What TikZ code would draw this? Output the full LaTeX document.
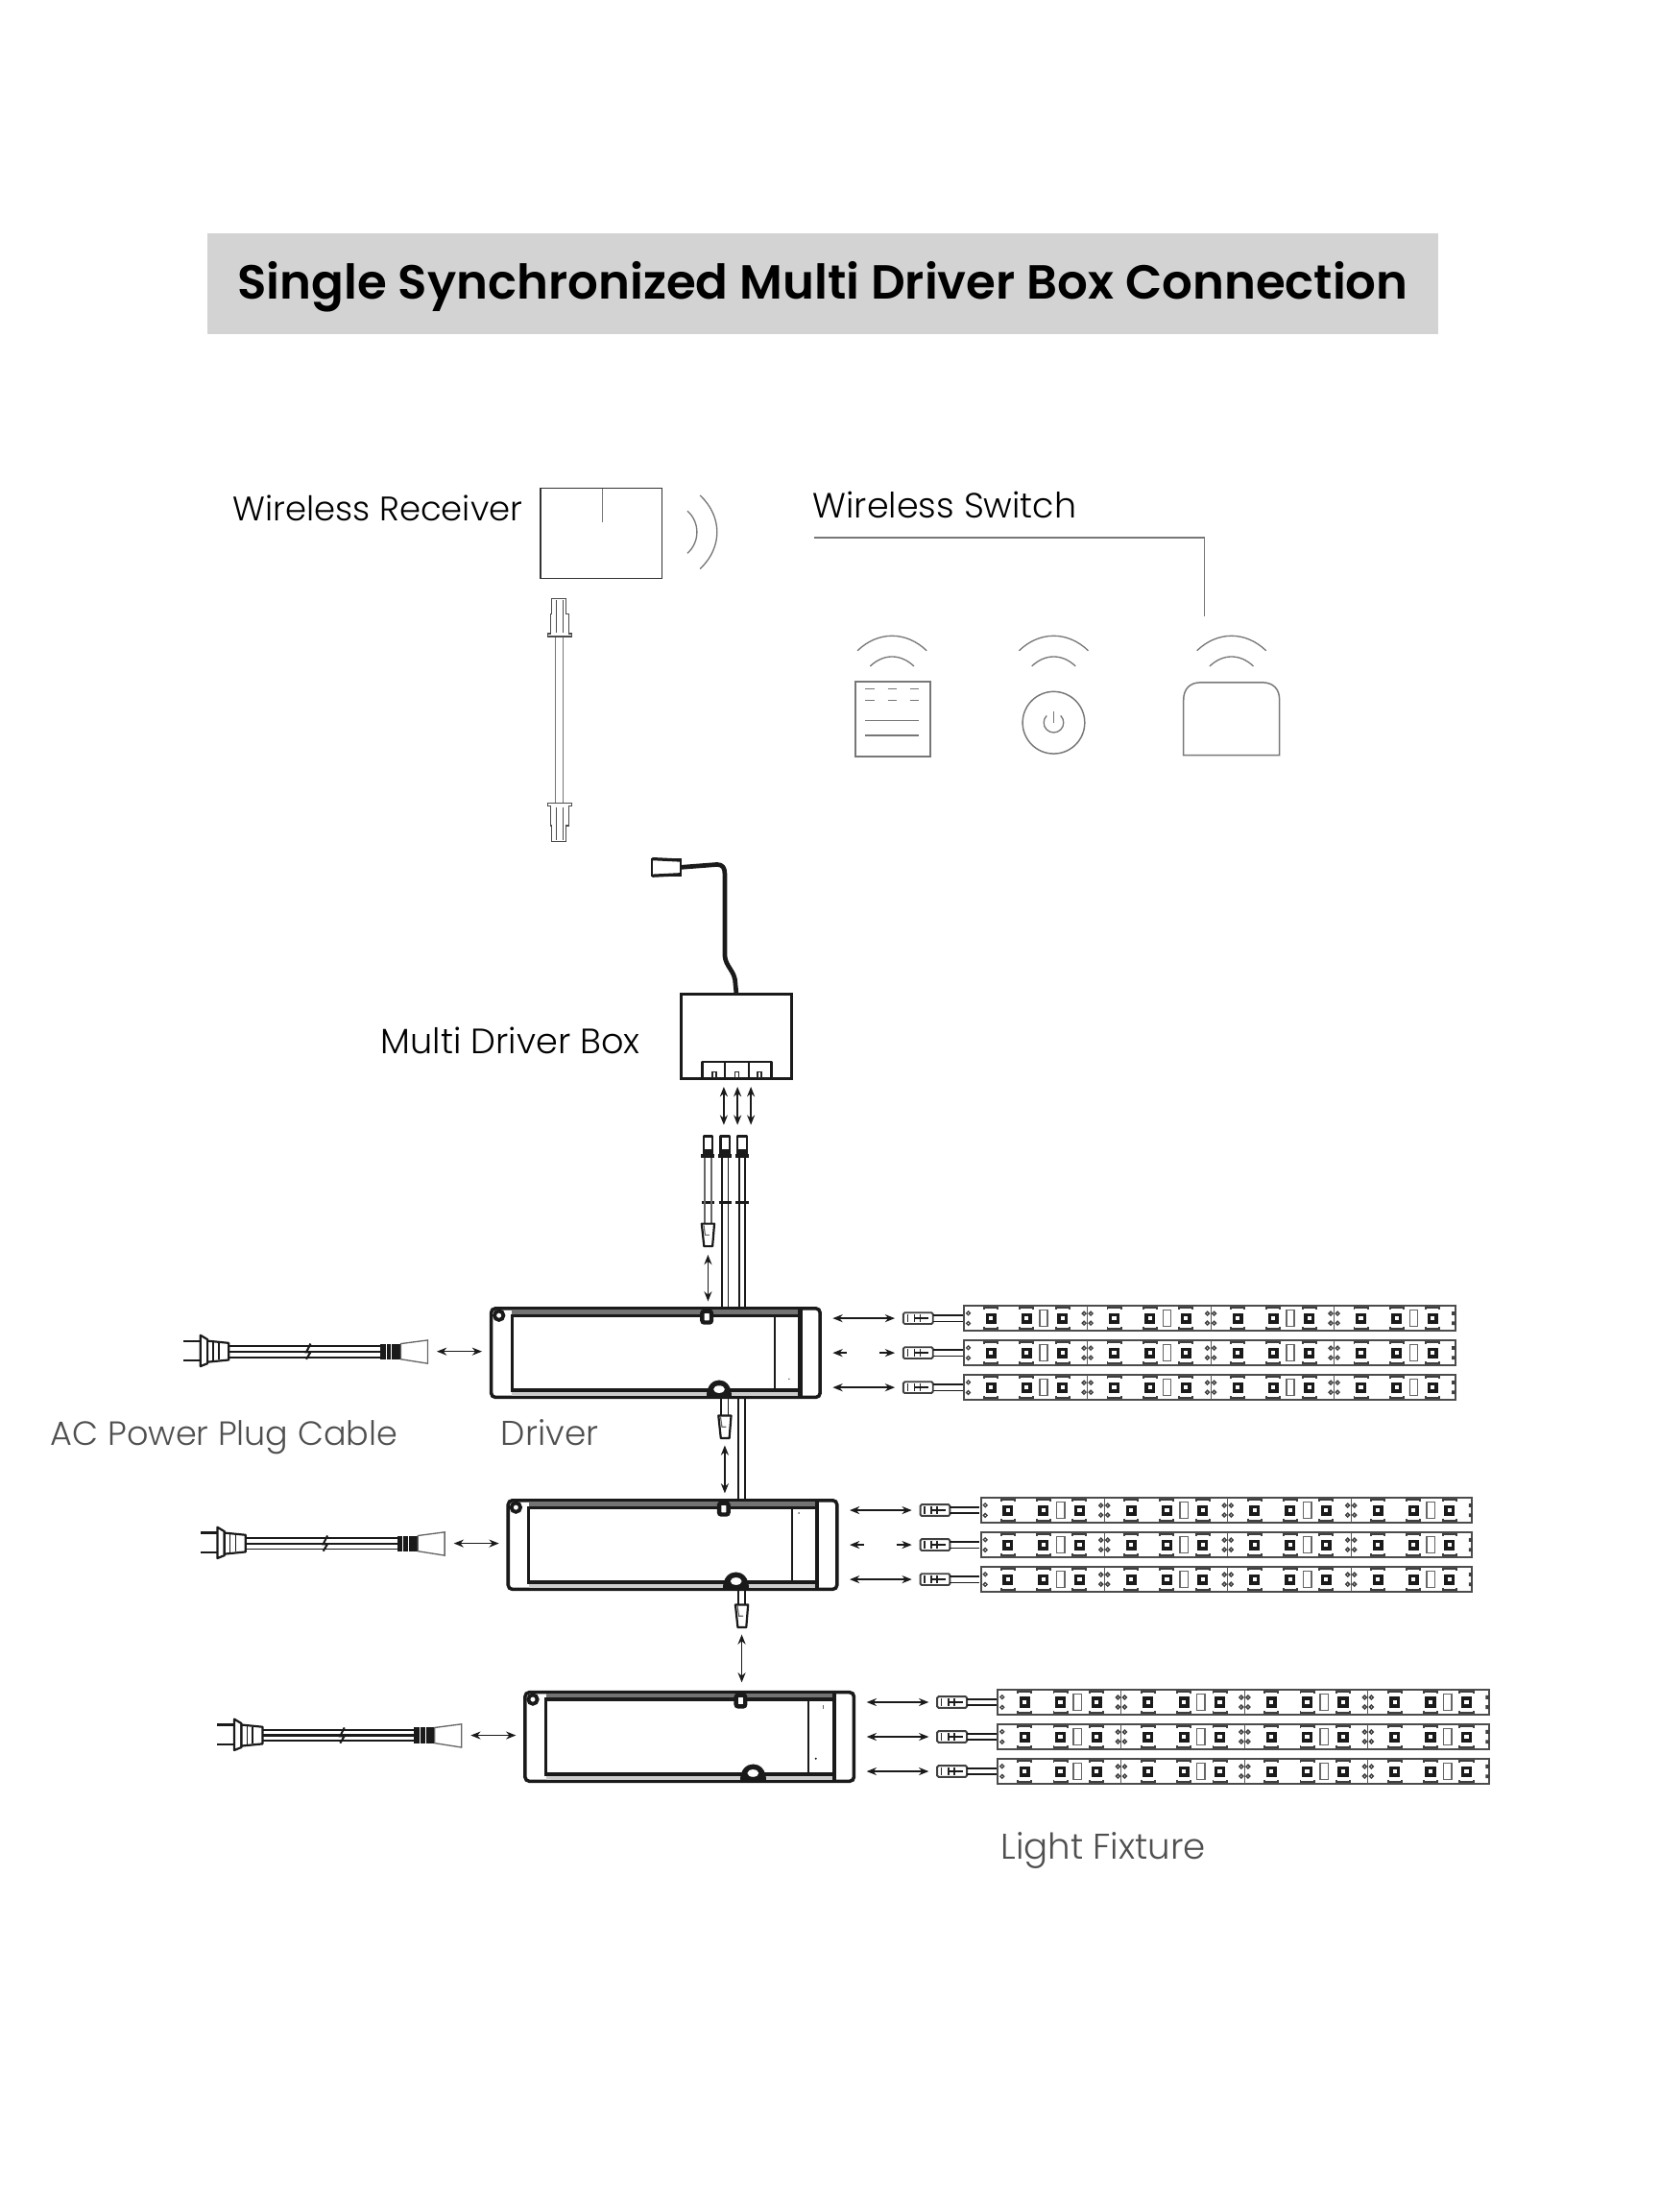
\documentclass[tikz,border=0pt]{standalone}
\usepackage{fontspec}
\usepackage{xcolor}
\usepackage{tikz}
\usetikzlibrary{arrows.meta, positioning}
\setmainfont{Poppins}[UprightFont=* Light, BoldFont=* SemiBold]
\definecolor{titlegray}{HTML}{D3D3D3}
\definecolor{labelgray}{HTML}{4F4F4F}
\definecolor{linegray}{HTML}{777777}
\definecolor{inkblack}{HTML}{1A1A1A}
\tikzstyle{darklabel} = [inner sep=0pt, outer sep=0pt, anchor=west, font=\fontsize{24.4}{28}\selectfont, text=black]
\tikzstyle{graylabel} = [darklabel, text=labelgray]
\tikzstyle{thin gray} = [draw=linegray, line width=0.9pt]
\tikzstyle{icon} = [draw=linegray, line width=1pt, inner sep=0pt, outer sep=0pt, minimum width=0pt, minimum height=0pt]
\tikzstyle{ink} = [draw=inkblack, line width=1.5pt, line join=round]
\tikzstyle{dblarrow} = [draw=inkblack, line width=0.9pt, {Stealth[length=7pt,width=5.5pt]}-{Stealth[length=7pt,width=5.5pt]}]
\tikzstyle{driverbody} = [draw=inkblack, line width=2.4pt, rounded corners=3pt, minimum width=233pt, minimum height=63pt, inner sep=0pt, outer sep=0pt, anchor=north west]
\tikzstyle{stripbody} = [draw=black!70, line width=1.3pt, minimum width=348pt, minimum height=17.5pt, inner sep=0pt, outer sep=0pt, anchor=west]
\tikzstyle{leadbody} = [draw=black!75, line width=1.3pt, fill=white, rounded corners=1pt, minimum width=21pt, minimum height=8pt, inner sep=0pt, outer sep=0pt, anchor=west]

% wifi waves over a remote, #1 = centre x
\newcommand{\waves}[1]{
  \draw[thin gray] (#1-24.5,461) .. controls (#1-10,447) and (#1+10,447) .. (#1+24.5,461);
  \draw[thin gray] (#1-15.5,472) .. controls (#1-6,463) and (#1+6,463) .. (#1+15.5,472);
}
% connector with the head upwards, #1 = x, #2 = top y
\newcommand{\conup}[2]{
  \draw[ink, fill=white] (#1-3.2,#2) rectangle (#1+3.2,#2+13);
  \fill[inkblack] (#1-3.2,#2+9) rectangle (#1+3.2,#2+13);
  \draw[inkblack, line width=2.2pt] (#1-4.8,#2+14) -- (#1+4.8,#2+14);
}
% connector with the head downwards, #1 = x, #2 = top y
\newcommand{\condown}[2]{
  \draw[ink, fill=white] (#1-4.5,#2) -- (#1+4.5,#2) -- (#1+3.2,#2+16) -- (#1-2.8,#2+16) -- cycle;
  \draw[black!60, line width=0.8pt] (#1-3,#2+1) -- (#1-2,#2+8) -- (#1+1,#2+8);
}
% one LED of a strip, #1 = x, #2 = centre y
\newcommand{\ledcell}[2]{
  \draw[inkblack, line width=2.3pt] (#1-2.6,#2-2.6) rectangle (#1+2.6,#2+2.6);
  \draw[black!75, line width=1.3pt] (#1-4.8,#2-6.2) -- (#1-4.8,#2-7.4) -- (#1+4.8,#2-7.4) -- (#1+4.8,#2-6.2);
  \draw[black!75, line width=1.3pt] (#1-4.8,#2+6.2) -- (#1-4.8,#2+7.4) -- (#1+4.8,#2+7.4) -- (#1+4.8,#2+6.2);
}
% two solder pads, #1 = x, #2 = centre y
\newcommand{\padpair}[2]{
  \draw[black!75, line width=1pt] (#1-2.4,#2-3.4) circle (1.3pt) (#1+2.4,#2-3.4) circle (1.3pt);
  \draw[black!75, line width=1pt] (#1-2.4,#2+3.4) circle (1.3pt) (#1+2.4,#2+3.4) circle (1.3pt);
}

\begin{document}
\begin{tikzpicture}[x=1pt, y=-1pt, >=Stealth]
\useasboundingbox (0,0) rectangle (1175.4,1567.2);

% Title
\node (titlebar) [fill=titlegray, minimum width=872pt, minimum height=72pt, inner sep=0pt, outer sep=0pt, anchor=north west] at (147,165) {};
\node (title) [inner sep=0pt, yshift=-2.5pt] at (titlebar.center) {\fontsize{33.9}{40}\selectfont\bfseries Single Synchronized Multi Driver Box Connection};

% Labels
\node (lblreceiver) [darklabel, font=\fontsize{24.1}{28}\selectfont] at (165,360) {Wireless Receiver};
\node (lblswitch) [darklabel, font=\fontsize{24.8}{28}\selectfont] at (576,358) {Wireless Switch};
\node (lblbox) [darklabel, font=\fontsize{24.9}{28}\selectfont] at (270,737) {Multi Driver Box};
\node (lblplug) [graylabel, font=\fontsize{23.8}{28}\selectfont] at (36,1018.5) {AC Power Plug Cable};
\node (lbldriver) [graylabel] at (355,1015) {Driver};
\node (lblfixture) [graylabel, font=\fontsize{25.3}{28}\selectfont] at (709,1311) {Light Fixture};

% Wireless receiver
\node (receiver) [draw=black!80, line width=1pt, minimum width=86pt, minimum height=64pt, inner sep=0pt, outer sep=0pt, anchor=north west] at (383,346) {};
\draw[thin gray] (427,346) -- (427,370);
\draw[thin gray] (487,362) .. controls (496,370) and (496,384) .. (487,392);
\draw[thin gray] (496,351) .. controls (512,366) and (512,388) .. (496,403);

% Receiver cable
\draw[thin gray, fill=white] (393.5,451) rectangle (399,569);
\foreach \cy/\cs in {451/-1, 569/1} {
  \draw[black!70, line width=0.9pt, fill=white] (388,\cy) -- (405,\cy) -- (405,\cy+\cs*2) -- (403,\cy+\cs*2) -- (403,\cy+\cs*16) -- (401,\cy+\cs*16) -- (401,\cy+\cs*27) -- (391,\cy+\cs*27) -- (391,\cy+\cs*16) -- (390,\cy+\cs*16) -- (390,\cy+\cs*2) -- (388,\cy+\cs*2) -- cycle;
  \draw[black!70, line width=0.8pt] (394,\cy+\cs*3) -- (394,\cy+\cs*26) (399,\cy+\cs*3) -- (399,\cy+\cs*26);
}

% Wireless switch bracket
\coordinate (switchleft) at (577,381);
\coordinate (switchcorner) at (853.5,381);
\coordinate (switchend) at (853.5,437);
\draw[thin gray] (switchleft) -- (switchcorner) -- (switchend);

% Remotes
\waves{632}
\waves{746.5}
\waves{872.5}
\node (panel) [icon, minimum width=53pt, minimum height=53pt, anchor=north west] at (606,483) {};
\foreach \dy in {488,496} {
  \foreach \dx in {613,629,644.5} {
    \draw[thin gray] (\dx,\dy) -- ++(6.5,0);
  }
}
\draw[thin gray] (613,510.5) -- (651,510.5);
\draw[thin gray] (613,521) -- (651,521);
\node (dial) [icon, circle, minimum size=44pt] at (746.5,512) {};
\draw[thin gray] (741.55,507.05) arc[start angle=135, end angle=405, radius=7pt];
\draw[thin gray] (746.5,504) -- (746.5,512);
\draw[icon] (838.5,535) -- (838.5,496) .. controls (838.5,488) and (843,483.5) .. (851,483.5) -- (894,483.5) .. controls (902,483.5) and (906.5,488) .. (906.5,496) -- (906.5,535) -- cycle;

% Multi driver box
\node (multibox) [draw=inkblack, line width=1.8pt, minimum width=78.5pt, minimum height=59.5pt, inner sep=0pt, outer sep=0pt, anchor=north west] at (482.5,704.5) {};
\node (inplug) [draw=inkblack, line width=1.4pt, fill=white, minimum width=20pt, minimum height=12pt, inner sep=0pt, outer sep=0pt, anchor=north west] at (462,608.5) {};
\draw[inkblack, line width=2.2pt] (462,608.5) -- (482,609.5) (462,620.5) -- (482,619.5);
\draw[inkblack, line width=3.2pt, line join=round] (inplug.east) -- (508,612.5) .. controls (512,612.5) and (513.5,615) .. (513.5,619) -- (513.5,677) .. controls (514,685) and (521,688) .. (521,697) -- (multibox.north);
\draw[ink] (497.5,764) -- (497.5,752.5) -- (546.5,752.5) -- (546.5,764);
\foreach \px/\dx in {513.5/506, 530.5/522, 546.5/538} {
  \draw[ink] (\px,752.5) -- (\px,764);
  \draw[black!85, line width=1pt] (\dx-1.4,759.5) rectangle (\dx+1.4,763.5);
}

% Connectors below the box
\foreach \wx in {501.6,513.7,525.8} {
  \conup{\wx}{805}
  \draw[inkblack, line width=2.6pt] (\wx-4.5,852) -- (\wx+4.5,852);
}
\draw[black!60, line width=1.2pt] (499.4,820) -- (499.4,867) (503.8,820) -- (503.8,867);
\draw[inkblack, line width=1.1pt] (511.5,820) -- (511.5,926) (516,820) -- (516,926);
\draw[inkblack, line width=1.1pt] (523.6,820) -- (523.6,926) (528,820) -- (528,926);
\condown{501.6}{867}
\foreach \ax in {512.8,522.5,532} {
  \draw[dblarrow] (\ax,770) -- (\ax,797);
}

% Driver groups
\foreach \i/\dx/\dy in {1/0/0, 2/12/136, 3/24/272} {
  \begin{scope}[shift={(\dx,\dy)}]
    \node (driver\i) [driverbody] at (348,927) {};
    % inner frame
    \fill[black!55] (362.7,928) rectangle (567,932);
    \fill[black!20] (362.7,985) rectangle (567,989);
    \draw[inkblack, line width=2.2pt] (362.7,932) rectangle (567,985);
    \draw[inkblack, line width=3pt] (567,928) -- (567,989);
    \draw[inkblack, line width=1.4pt] (549,932) -- (549,985);
    % screw
    \draw[inkblack, line width=2.6pt, fill=white] (353.5,932) circle (3.2pt);
    % top notch
    \draw[inkblack, line width=3pt, fill=white, rounded corners=1.5pt] (497.5,929) rectangle (504,937);
    % bottom bump
    \fill[inkblack] (500.5,989) .. controls (500.5,974) and (518.5,974) .. (518.5,989) -- cycle;
    \fill[white] (509.5,984.3) ellipse (4pt and 2.6pt);
    % power plug
    \draw[ink] (130,950) -- (142,950) (130,964) -- (142,964);
    \draw[ink, fill=white] (142,946) -- (147,949) -- (147,966) -- (142,968) -- cycle;
    \draw[ink, fill=white] (147,950) -- (162,951.5) -- (162,963.5) -- (147,965) -- cycle;
    \draw[inkblack, line width=1pt] (151,951) -- (151,964) (155,951.5) -- (155,963.5);
    \draw[inkblack, line width=1.3pt] (162,953.5) -- (269.5,953.5) (162,961.5) -- (269.5,961.5);
    \draw[inkblack, line width=1.5pt] (162,957.5) -- (269.5,957.5);
    \draw[inkblack, line width=1.4pt] (220,952) -- (217,958) -- (220,958) -- (217,963);
    \fill[inkblack] (269.5,952) rectangle (284,963);
    \draw[white, line width=0.7pt] (273.5,952) -- (273.5,963) (277.5,952) -- (277.5,963);
    \draw[black!60, line width=0.9pt, fill=white] (284,952) -- (303,949.5) -- (303,966) -- (284,963) -- cycle;
    \coordinate (plug\i) at (303,957.5);
    \draw[dblarrow, shorten <=6.5pt, shorten >=6.5pt] (plug\i) -- (driver\i.west |- plug\i);
    % light strips
    \foreach \r/\ry in {1/934, 2/958.5, 3/983} {
      \node (lead\i\r) [leadbody] at (640,\ry) {};
      \node (strip\i\r) [stripbody] at (683,\ry) {};
      \draw[black!85, line width=1.1pt] (643,\ry-2.5) -- (643,\ry+2.5) (648,\ry-2.5) -- (648,\ry+2.5) (652,\ry-2.5) -- (652,\ry+2.5);
      \draw[inkblack, line width=1.2pt] (648,\ry) -- (658,\ry);
      \draw[inkblack, line width=1.1pt] (lead\i\r.east) ++(0,-2.2) -- (682,\ry-2.2);
      \draw[inkblack, line width=1.1pt] (lead\i\r.east) ++(0,2.2) -- (682,\ry+2.2);
      \draw[black!75, line width=0.9pt] (686,\ry-3.6) circle (1.3pt) (686,\ry+3.6) circle (1.3pt);
      \foreach \k in {0,1,2,3} {
        \pgfmathsetmacro{\sx}{683+87.4*\k}
        \ledcell{\sx+19}{\ry}
        \ledcell{\sx+44.3}{\ry}
        \ledcell{\sx+69.8}{\ry}
        \draw[black!60, line width=1pt, fill=white] (\sx+53.6,\ry-5.8) rectangle (\sx+59.2,\ry+5.8);
        \ifnum\k<3
          \padpair{\sx+87.4}{\ry}
          \draw[black!65, line width=0.7pt] (\sx+87.4,\ry-8.7) -- (\sx+87.4,\ry+8.7);
        \fi
      }
      \fill[black!75] (1028.6,\ry-4.8) rectangle (1031,\ry-2.2) (1028.6,\ry+2.2) rectangle (1031,\ry+4.8);
    }
  \end{scope}
}

% Small marks inside the drivers
\fill[black!60] (559,977) circle (0.6pt);
\fill[black!60] (566,1072) circle (0.7pt);
\draw[black!60, line width=0.7pt] (583,1208) -- (583,1211);
\fill[inkblack] (578,1246) circle (0.8pt);

% Strip arrows
\foreach \i in {1,2,3} {
  \foreach \r in {1,3} {
    \draw[dblarrow, shorten <=9pt, shorten >=6pt] (driver\i.east |- lead\i\r.west) -- (lead\i\r.west);
  }
}
\draw[dblarrow, shorten <=9pt, shorten >=6pt] (driver3.east |- lead32.west) -- (lead32.west);
\foreach \i in {1,2} {
  \draw[draw=inkblack, line width=0.9pt, {Stealth[length=7pt,width=5.5pt]}-] (driver\i.east |- lead\i2.west) ++(9,0) -- ++(10,0);
  \draw[draw=inkblack, line width=0.9pt, -{Stealth[length=7pt,width=5.5pt]}] (lead\i2.west) ++(-17,0) -- ++(11,0);
}

% Links between drivers
\draw[inkblack, line width=1.1pt] (523,990) -- (523,1063) (528,990) -- (528,1063);
\draw[inkblack, line width=1.1pt] (511,990) -- (511,1003) (516,990) -- (516,1003);
\condown{513.5}{1003}
\draw[dblarrow] (513.5,1024) -- (513.5,1058);
\draw[inkblack, line width=1.1pt] (523,1126) -- (523,1137) (528,1126) -- (528,1137);
\condown{525.5}{1137}
\draw[dblarrow] (525.5,1158) -- (525.5,1192);
\draw[dblarrow] (501.6,889) -- (501.6,922);

\end{tikzpicture}
\end{document}
